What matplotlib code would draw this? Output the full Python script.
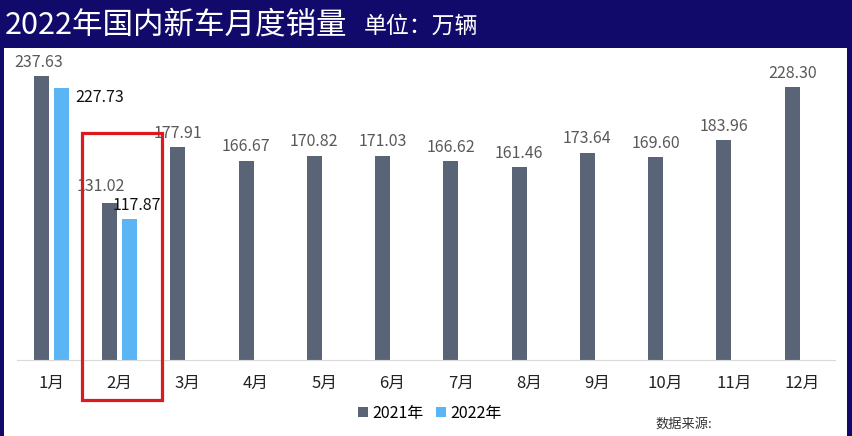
import matplotlib
matplotlib.use("Agg")
import numpy as np
import matplotlib.pyplot as plt
from matplotlib.patches import Rectangle

plt.rcParams['font.family'] = ['Noto Sans CJK SC', 'DejaVu Sans']

# ---- data ----
months = ['1月', '2月', '3月', '4月', '5月', '6月', '7月', '8月', '9月', '10月', '11月', '12月']
sales_2021 = [237.63, 131.02, 177.91, 166.67, 170.82, 171.03, 166.62, 161.46, 173.64, 169.60, 183.96, 228.30]
sales_2022 = [227.73, 117.87]

navy = '#120a6a'
c2021 = '#596577'
c2022 = '#5bb5f5'

W, H = 852, 436
fig = plt.figure(figsize=(W / 100, H / 100), dpi=100, facecolor=navy)

# white panel
fig.add_artist(Rectangle((4 / W, 0), 843 / W, (H - 48) / H,
                         transform=fig.transFigure, facecolor='white',
                         edgecolor='none', zorder=0))

# title
fig.text(5 / W, 1 - 25 / H, '2022年国内新车月度销量', color='white',
         fontsize=22, va='center', ha='left')
fig.text(364 / W, 1 - 26 / H, '单位：万辆', color='white',
         fontsize=16.5, va='center', ha='left')

# axes: baseline at y=360px, 1.195 px per unit
scale = 1.195
ax = fig.add_axes([17 / W, (H - 360) / H, 818 / W, 312 / H])
ax.set_facecolor('none')
ax.set_xlim(-0.5, 11.48)
ax.set_ylim(0, 312 / scale)

x = np.arange(len(months))
bw = 0.22
off = 0.146
ax.bar(x - off, sales_2021, width=bw, color=c2021, label='2021年', zorder=2)
ax.bar(x[:len(sales_2022)] + off, sales_2022, width=bw, color=c2022,
       label='2022年', zorder=2)

for spine in ['top', 'right', 'left']:
    ax.spines[spine].set_visible(False)
ax.spines['bottom'].set_color('#d9d9d9')
ax.set_yticks([])
ax.set_xticks(x)
ax.set_xticklabels(months, fontsize=12, color='#222222')
ax.tick_params(axis='x', length=0, pad=11)

# value labels, 2021
for i, v in enumerate(sales_2021):
    dx = -6 if i == 1 else (-2 if i == 0 else 0)
    dy = 12 if i == 1 else 10
    ax.annotate(f'{v:.2f}', (i - off, v), xytext=(dx, dy),
                textcoords='offset points', ha='center', va='center',
                fontsize=11.5, color='#595959', zorder=3)

# value labels, 2022
lab_offsets = [(5, -7), (0, 10)]
lab_align = ['left', 'center']
for i, v in enumerate(sales_2022):
    ax.annotate(f'{v:.2f}', (i + off + bw / 2, v), xytext=lab_offsets[i],
                textcoords='offset points', ha=lab_align[i], va='center',
                fontsize=11.5, color='#111111', zorder=3)

# red highlight box around February
ax.add_patch(Rectangle((0.454, -33.5), 1.171, 223.5, fill=False,
                       edgecolor='#dd1a1e', linewidth=2.3, clip_on=False,
                       zorder=4))

# legend
handles, labels = ax.get_legend_handles_labels()
fig.legend(handles, labels, loc='center', bbox_to_anchor=(430 / W, 1 - 413 / H),
           ncol=2, frameon=False, fontsize=11.5, handlelength=0.6,
           handleheight=0.6, handletextpad=0.3, columnspacing=0.8)

fig.text(655 / W, 1 - 424 / H, '数据来源:', fontsize=9.5, color='#333333',
         ha='left', va='center')

fig.savefig('out.png', dpi=100, facecolor=navy)
